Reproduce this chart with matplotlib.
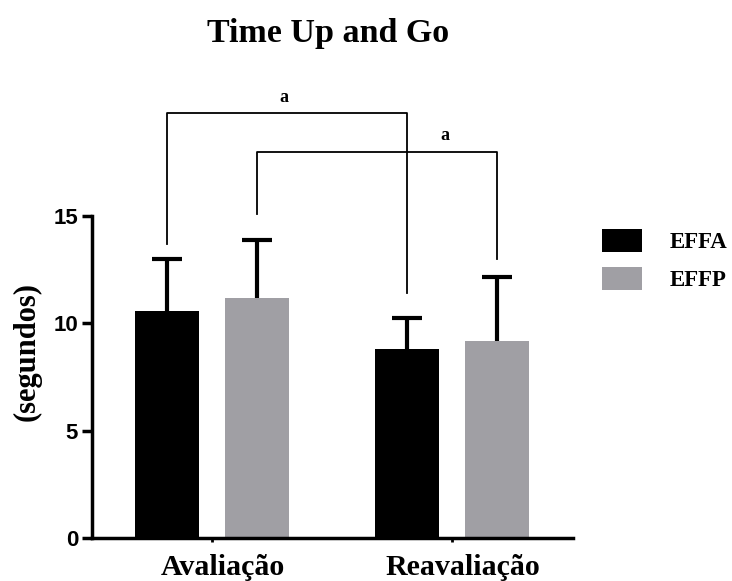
import numpy as np
import matplotlib
matplotlib.use('Agg')
import matplotlib.pyplot as plt

# data
groups = ['Avaliação', 'Reavaliação']
series = ['EFFA', 'EFFP']
means = {'EFFA': [10.6, 8.8], 'EFFP': [11.2, 9.2]}
sds = {'EFFA': [2.4, 1.45], 'EFFP': [2.7, 2.95]}
colors = {'EFFA': '#000000', 'EFFP': '#a09fa4'}

# significance brackets: (series1, group1, series2, group2, height, leg1, leg2, label)
brackets = [
    ('EFFA', 0, 'EFFA', 1, 19.8, 13.7, 11.4, 'a'),
    ('EFFP', 0, 'EFFP', 1, 18.0, 15.1, 13.0, 'a'),
]
label_x = [0.30, 0.97]

serif = 'Liberation Serif'
sans = 'Liberation Sans'

fig = plt.figure(figsize=(7.32, 5.81), dpi=100)
ax = fig.add_axes([0.1257, 0.074, 0.657, 0.554])

x = np.arange(len(groups))
width = 0.267
cap = 0.0625
offsets = {'EFFA': -0.1875, 'EFFP': 0.1875}

for s in series:
    xs = x + offsets[s]
    ax.bar(xs, means[s], width, color=colors[s], label=s, zorder=2)
    # upper error bars only
    for xi, m, sd in zip(xs, means[s], sds[s]):
        ax.plot([xi, xi], [m, m + sd], color='black', lw=3,
                solid_capstyle='butt', zorder=3)
        ax.plot([xi - cap, xi + cap], [m + sd, m + sd], color='black', lw=3,
                solid_capstyle='butt', zorder=3)

for (s1, g1, s2, g2, h, l1, l2, lab), lx in zip(brackets, label_x):
    x1 = g1 + offsets[s1]
    x2 = g2 + offsets[s2]
    ax.plot([x1, x1, x2, x2], [l1, h, h, l2], color='black', lw=1.3,
            clip_on=False, zorder=4)
    ax.text(lx, h + 0.35, lab, ha='center', va='bottom',
            fontsize=13, fontweight='bold', family=serif)

ax.set_xlim(-0.5, 1.505)
ax.set_ylim(0, 15)
ax.set_yticks([0, 5, 10, 15])
ax.set_xticks(x)
ax.tick_params(axis='x', length=3, width=2, labelbottom=False)
# group names sit a little right of the ticks in the original
for xi, grp in zip(x, groups):
    ax.text(xi + 0.046, -0.05, grp, transform=ax.get_xaxis_transform(),
            ha='center', va='top', fontsize=21.5, fontweight='bold',
            family=serif)
for lab in ax.get_yticklabels():
    lab.set_fontsize(16)
    lab.set_fontweight('bold')
    lab.set_family(sans)
ax.tick_params(axis='y', length=7, width=2.5, pad=3)

for sp in ['top', 'right']:
    ax.spines[sp].set_visible(False)
for sp in ['left', 'bottom']:
    ax.spines[sp].set_linewidth(2.5)

ax.set_ylabel('(segundos)', fontsize=22, fontweight='bold', family=serif)
ax.yaxis.set_label_coords(-0.104, 0.578)

fig.text(0.448, 0.942, 'Time Up and Go', ha='center', va='center',
         fontsize=24.5, fontweight='bold', family=serif)

leg = ax.legend(loc='upper left', bbox_to_anchor=(1.018, 1.025), frameon=False,
                prop={'family': serif, 'weight': 'bold', 'size': 16.5},
                handlelength=1.75, handleheight=1.2, handletextpad=1.2,
                labelspacing=0.6)

fig.savefig('out.png', dpi=100)
